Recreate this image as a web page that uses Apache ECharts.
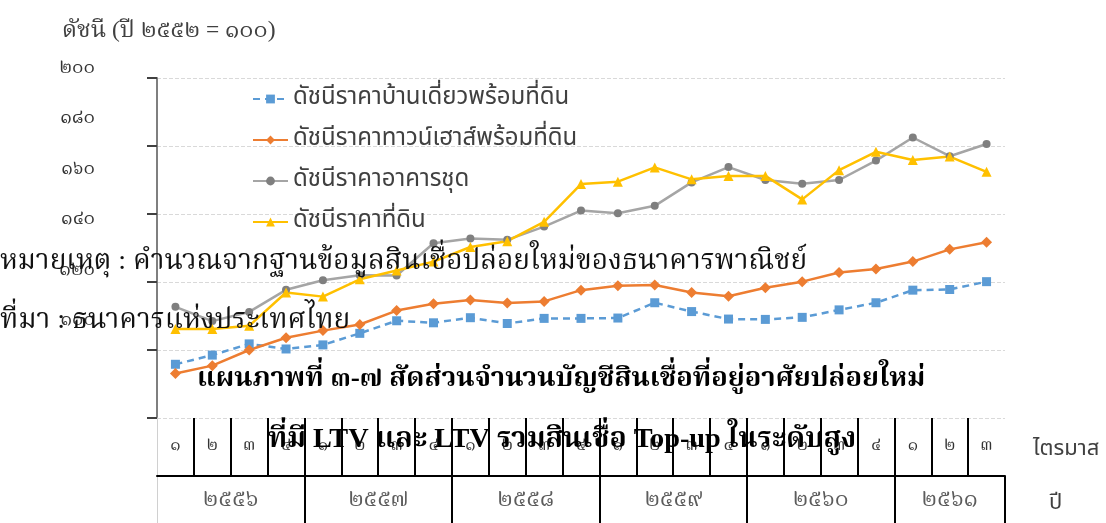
<!DOCTYPE html>
<html>
<head>
<meta charset="utf-8">
<script src="https://cdn.jsdelivr.net/npm/echarts@6/dist/echarts.min.js"></script>
<style>
  html, body { margin: 0; padding: 0; background: #ffffff; }
  #chart { width: 1106px; height: 523px; }
</style>
</head>
<body>
<div id="chart"></div>
<script>
// Quarter and year labels (Thai numerals)
const quarterLabels = ['๑','๒','๓','๔','๑','๒','๓','๔','๑','๒','๓','๔','๑','๒','๓','๔','๑','๒','๓','๔','๑','๒','๓'];
const yearLabels = ['๒๕๕๖','๒๕๕๗','๒๕๕๘','๒๕๕๙','๒๕๖๐','๒๕๖๑'];
const quartersPerYear = [4, 4, 4, 4, 4, 3];

// Housing price indices (2552 = 100)
const singleHouse = [115.8,118.5,121.8,120.3,121.5,124.9,128.6,128.0,129.5,127.8,129.3,129.3,129.4,133.9,131.3,129.1,129.0,129.6,131.8,133.9,137.6,137.8,140.1];
const townhouse   = [113.1,115.4,120.0,123.6,125.7,127.5,131.6,133.6,134.7,133.8,134.3,137.6,138.9,139.1,136.9,135.8,138.3,140.1,142.8,143.8,146.0,149.6,151.7];
const condo       = [132.7,128.5,131.2,137.7,140.5,142.0,141.9,151.4,152.8,152.4,156.3,161.0,160.2,162.4,169.3,173.8,170.0,168.9,170.0,175.7,182.5,177.0,180.6];
const land        = [126.2,126.2,127.1,136.9,135.7,140.8,143.4,146.0,150.3,152.0,157.7,168.8,169.5,173.7,170.2,171.2,171.2,164.3,172.9,178.3,175.9,176.9,172.4];

const seriesNames = [
  'ดัชนีราคาบ้านเดี่ยวพร้อมที่ดิน',
  'ดัชนีราคาทาวน์เฮาส์พร้อมที่ดิน',
  'ดัชนีราคาอาคารชุด',
  'ดัชนีราคาที่ดิน'
];

const yMin = 100, yMax = 200, yStep = 20;

const THAI_DIGITS = '๐๑๒๓๔๕๖๗๘๙';
function toThaiDigits(v) {
  return String(v).replace(/[0-9]/g, d => THAI_DIGITS[+d]);
}

// Year label positions: centre of each year's run of quarters
const yearCenters = [];
const yearStartIdx = [];
(function () {
  let start = 0;
  quartersPerYear.forEach((n, i) => {
    yearCenters.push([start + (n - 1) / 2, 0.5, yearLabels[i]]);
    if (i > 0) yearStartIdx.push(start);
    start += n;
  });
})();

const SERIF = "'Liberation Serif', 'Noto Serif Thai', 'Norasi', 'Noto Sans Thai', serif";
const SANS = "'Noto Sans Thai', 'Loma', 'Garuda', 'Noto Sans', sans-serif";

const chart = echarts.init(document.getElementById('chart'), null, { renderer: 'canvas' });

function txt(text, left, top, family, size, weight, color) {
  return { text, left, top, padding: 0,
           textStyle: { fontFamily: family, fontSize: size, fontWeight: weight, color } };
}

const option = {
  backgroundColor: '#ffffff',
  animation: false,
  title: [
    txt('ดัชนี (ปี ๒๕๕๒ = ๑๐๐)', 62, 19, SERIF, 23.5, 'normal', '#404040'),
    txt('หมายเหตุ : คำนวณจากฐานข้อมูลสินเชื่อปล่อยใหม่ของธนาคารพาณิชย์', 0, 248, SERIF, 28, 'normal', '#111'),
    txt('ที่มา : ธนาคารแห่งประเทศไทย', 0, 307, SERIF, 28, 'normal', '#111'),
    txt('แผนภาพที่ ๓-๗ สัดส่วนจำนวนบัญชีสินเชื่อที่อยู่อาศัยปล่อยใหม่', 197, 365, SERIF, 27.3, 'bold', '#000'),
    txt('ที่มี LTV และ LTV รวมสินเชื่อ Top-up ในระดับสูง', 268, 426, SERIF, 28.3, 'bold', '#000'),
    txt('ไตรมาส', 1033, 440, SANS, 22, 'normal', '#404040'),
    txt('ปี', 1049, 494, SANS, 22, 'normal', '#404040')
  ],
  legend: {
    orient: 'vertical',
    left: 252, top: 87, padding: 0,
    itemWidth: 35, itemHeight: 11, itemGap: 17,
    textStyle: { fontFamily: SANS, fontSize: 24, color: '#404040' },
    data: seriesNames
  },
  grid: [
    { left: 157, right: 101, top: 78, height: 340 },   // plot area
    { left: 157, right: 101, top: 418, height: 58 },   // quarter row
    { left: 157, right: 101, top: 476, height: 47 },   // year row
    { left: 100, width: 1, top: 68, height: 252 }      // value labels
  ],
  xAxis: [
    { type: 'category', gridIndex: 0, data: quarterLabels, boundaryGap: true,
      axisLine: { show: false }, axisTick: { show: false }, axisLabel: { show: false } },
    { type: 'category', gridIndex: 1, data: quarterLabels, boundaryGap: true, position: 'bottom',
      axisLine: { show: true, onZero: false, lineStyle: { color: '#000', width: 2 } },
      axisTick: { show: false },
      axisLabel: { show: true, inside: true, margin: 30, verticalAlign: 'middle',
                   fontFamily: SERIF, fontSize: 17, color: '#333' },
      splitLine: { show: true, showMinLine: false, showMaxLine: false,
                   lineStyle: { color: '#000', width: 2 } } },
    { type: 'category', gridIndex: 2, data: quarterLabels, boundaryGap: true,
      axisLine: { show: false }, axisTick: { show: false }, axisLabel: { show: false },
      splitLine: { show: true,
                   interval: (i) => yearStartIdx.indexOf(i) >= 0,
                   lineStyle: { color: '#000', width: 2 } } },
    { type: 'value', gridIndex: 2, min: -0.5, max: 22.5, show: false },
    { type: 'category', gridIndex: 3, data: [''], show: false }
  ],
  yAxis: [
    { type: 'value', gridIndex: 0, min: yMin, max: yMax, interval: yStep,
      axisLine: { show: true, lineStyle: { color: '#7f7f7f', width: 2 } },
      axisTick: { show: true, length: 10, lineStyle: { color: '#404040', width: 2 } },
      axisLabel: { show: false },
      splitLine: { show: true, lineStyle: { color: '#d9d9d9', type: 'dashed', width: 1 } } },
    { type: 'value', gridIndex: 1, min: 0, max: 1,
      axisLine: { show: true, onZero: false, lineStyle: { color: '#d0d0d0', width: 1 } },
      axisTick: { show: false }, axisLabel: { show: false }, splitLine: { show: false } },
    { type: 'value', gridIndex: 2, min: 0, max: 1,
      axisLine: { show: true, onZero: false, lineStyle: { color: '#d0d0d0', width: 1 } },
      axisTick: { show: false }, axisLabel: { show: false }, splitLine: { show: false } },
    { type: 'value', gridIndex: 3, min: yMin, max: yMax, interval: yStep,
      axisLine: { show: false }, axisTick: { show: false }, splitLine: { show: false },
      axisLabel: { show: true, margin: 5, fontFamily: SERIF, fontSize: 19, color: '#333',
                   formatter: (v) => toThaiDigits(v) } }
  ],
  series: [
    { name: seriesNames[0], type: 'line', data: singleHouse, xAxisIndex: 0, yAxisIndex: 0,
      symbol: 'rect', symbolSize: 9,
      lineStyle: { color: '#5b9bd5', width: 2.5, type: [7, 5] },
      itemStyle: { color: '#5b9bd5' }, z: 3 },
    { name: seriesNames[1], type: 'line', data: townhouse, xAxisIndex: 0, yAxisIndex: 0,
      symbol: 'diamond', symbolSize: 11,
      lineStyle: { color: '#ed7d31', width: 2.5 },
      itemStyle: { color: '#ed7d31' }, z: 3 },
    { name: seriesNames[2], type: 'line', data: condo, xAxisIndex: 0, yAxisIndex: 0,
      symbol: 'circle', symbolSize: 8,
      lineStyle: { color: '#a5a5a5', width: 2.5 },
      itemStyle: { color: '#7f7f7f' }, z: 3 },
    { name: seriesNames[3], type: 'line', data: land, xAxisIndex: 0, yAxisIndex: 0,
      symbol: 'triangle', symbolSize: 10,
      lineStyle: { color: '#ffc000', width: 2.5 },
      itemStyle: { color: '#ffc000' }, z: 3 },
    { type: 'scatter', xAxisIndex: 3, yAxisIndex: 2, data: yearCenters, symbolSize: 0,
      silent: true,
      label: { show: true, position: 'inside', formatter: (p) => p.data[2],
               fontFamily: SERIF, fontSize: 23, color: '#333' } }
  ]
};

chart.setOption(option);
</script>
</body>
</html>
